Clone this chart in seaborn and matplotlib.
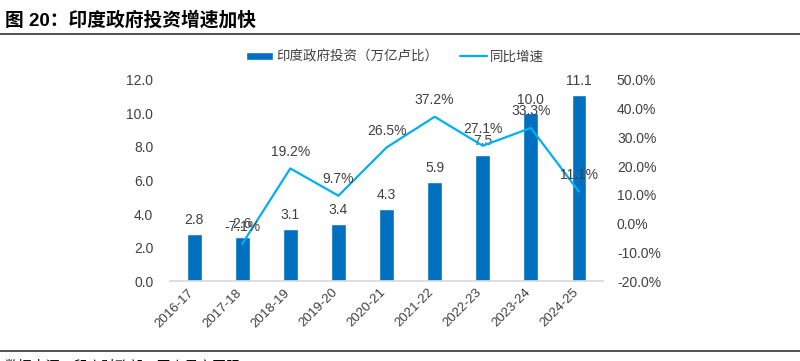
import numpy as np
import pandas as pd
import seaborn as sns
import matplotlib.pyplot as plt
import matplotlib.transforms as mtransforms
from matplotlib.lines import Line2D
from matplotlib.patches import Patch

years = ["2016-17", "2017-18", "2018-19", "2019-20", "2020-21",
         "2021-22", "2022-23", "2023-24", "2024-25"]
invest = [2.8, 2.6, 3.1, 3.4, 4.3, 5.9, 7.5, 10.0, 11.1]
growth = [np.nan, -7.1, 19.2, 9.7, 26.5, 37.2, 27.1, 33.3, 11.1]

sns.set_theme(style="white")
plt.rcParams['font.family'] = ['Liberation Sans', 'Noto Sans CJK SC', 'DejaVu Sans']

bar_color = "#0070C0"
line_color = "#00B0F0"
txt_color = "#404040"

df = pd.DataFrame({"year": years, "invest": invest, "growth": growth})

fig = plt.figure(figsize=(8, 3.61), dpi=100)
ax = fig.add_axes([0.2125, 0.2216, 0.5413, 0.5568])
sns.barplot(data=df, x="year", y="invest", color=bar_color, width=0.31,
            saturation=1, ax=ax)
ax.set_ylim(0, 12)
ax.set_yticks(np.arange(0, 12.1, 2))
ax.set_yticklabels([f"{v:.1f}" for v in np.arange(0, 12.1, 2)])
ax.set_xlim(-0.5, 8.5)
ax.set_xlabel("")
ax.set_ylabel("")
for s in ["top", "right", "left"]:
    ax.spines[s].set_visible(False)
ax.spines["bottom"].set_color("#D9D9D9")
ax.tick_params(axis="y", length=0, labelsize=10, colors=txt_color, pad=12)
ax.tick_params(axis="x", length=0, labelsize=9.5, colors=txt_color, pad=4)
shift = mtransforms.ScaledTranslation(-5 / 72, 0, fig.dpi_scale_trans)
for lbl in ax.get_xticklabels():
    lbl.set_rotation(45)
    lbl.set_ha("right")
    lbl.set_rotation_mode("anchor")
    lbl.set_transform(lbl.get_transform() + shift)

# bar value labels
for i, v in enumerate(invest):
    ax.annotate(f"{v:.1f}", (i, v), xytext=(0, 5), textcoords="offset points",
                ha="center", va="bottom", fontsize=10, color=txt_color)

ax2 = ax.twinx()
gd = df.dropna()
sns.lineplot(x=gd.index, y=gd["growth"] / 100, color=line_color, linewidth=1.6, ax=ax2)
ax2.set_ylim(-0.2, 0.5)
ax2.set_yticks(np.arange(-0.2, 0.51, 0.1))
ax2.set_yticklabels([f"{v * 100:.1f}%" for v in np.arange(-0.2, 0.51, 0.1)])
ax2.set_xlim(-0.5, 8.5)
ax2.set_ylabel("")
for s in ["top", "right", "left", "bottom"]:
    ax2.spines[s].set_visible(False)
ax2.tick_params(axis="y", length=0, labelsize=10, colors=txt_color, pad=10)

# growth labels
for i, v in zip(gd.index, gd["growth"]):
    ax2.annotate(f"{v:.1f}%", (i, v / 100), xytext=(0, 7), textcoords="offset points",
                 ha="center", va="bottom", fontsize=10, color=txt_color)

handles = [Patch(facecolor=bar_color), Line2D([0], [0], color=line_color, linewidth=1.6)]
labels = ["印度政府投资（万亿卢比）", "同比增速"]
fig.legend(handles, labels, loc="center", bbox_to_anchor=(0.494, 0.842), ncol=2,
           frameon=False, fontsize=9.7, handlelength=2.0, handleheight=0.55,
           columnspacing=1.6, handletextpad=0.25, labelcolor=txt_color)

fig.text(0.006, 0.945, "图 20：印度政府投资增速加快", fontsize=13.5, fontweight="bold",
         color="#000000", va="center", ha="left")
fig.add_artist(Line2D([0, 1], [0.905, 0.905], color="#333333", linewidth=1.2))
fig.add_artist(Line2D([0, 1], [0.028, 0.028], color="#333333", linewidth=1.2))
fig.text(0.006, -0.014, "数据来源：印度财政部，国泰君安国际", fontsize=10,
         color="#000000", va="center", ha="left")

fig.savefig("out.png", dpi=100)
